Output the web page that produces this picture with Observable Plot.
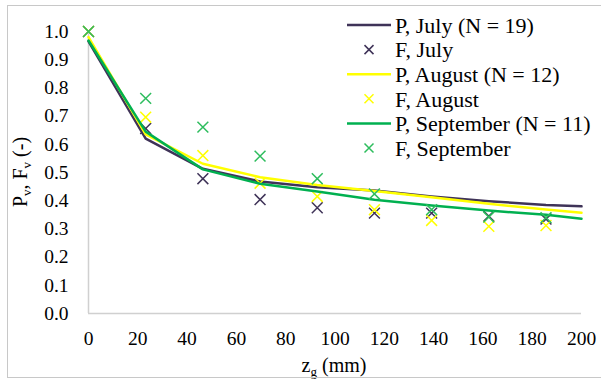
<!DOCTYPE html>
<html>
<head>
<meta charset="utf-8">
<script src="https://cdn.jsdelivr.net/npm/d3@7"></script>
<script src="https://cdn.jsdelivr.net/npm/@observablehq/plot@0.6"></script>
<style>
  body { margin: 0; background: #fff; }
  #wrap { position: relative; width: 601px; height: 380px; overflow: hidden; }
  #frame { position: absolute; left: 7px; top: 5px; width: 600px; height: 373px; border: 1px solid #c8c8c8; box-sizing: border-box; pointer-events: none; }
  #wrap svg text { font-family: "Liberation Serif", "Times New Roman", serif !important; }
</style>
</head>
<body>
<div id="wrap"><div id="frame"></div></div>
<script>
// Depths of the F points (mm)
const zgPoints = [0, 23.2, 46.4, 69.6, 92.8, 116, 139.2, 162.4, 185.6];
// Depths of the P curves (mm)
const zgLine = [0, 23.2, 46.4, 69.6, 92.8, 116, 139.2, 162.4, 185.6, 200];

const pJuly = [0.965, 0.62, 0.513, 0.468, 0.448, 0.436, 0.415, 0.398, 0.385, 0.380];
const pAugust = [0.98, 0.635, 0.531, 0.483, 0.456, 0.434, 0.412, 0.389, 0.369, 0.357];
const pSeptember = [0.968, 0.645, 0.511, 0.460, 0.433, 0.403, 0.383, 0.365, 0.350, 0.336];

const fJuly = [1.0, 0.656, 0.478, 0.404, 0.375, 0.356, 0.356, 0.345, 0.335];
const fAugust = [1.0, 0.696, 0.560, 0.462, 0.415, 0.368, 0.330, 0.309, 0.312];
const fSeptember = [1.0, 0.763, 0.661, 0.558, 0.478, 0.424, 0.368, 0.342, 0.340];

const xTicks = [0, 20, 40, 60, 80, 100, 120, 140, 160, 180, 200];
const yTicks = [0, 0.1, 0.2, 0.3, 0.4, 0.5, 0.6, 0.7, 0.8, 0.9, 1.0];

const legendLabels = ["P, July (N = 19)", "F, July", "P, August (N = 12)", "F, August", "P, September (N = 11)", "F, September"];

const colJuly = "#3f3358";
const colAug = "#ffff00";
const colSepLine = "#00b050";
const colSepMark = "#2ebd5e";

const serif = "Liberation Serif, Times New Roman, serif";

const toRows = (xs, ys) => xs.map((x, i) => ({x, y: ys[i]}));
const series = [
  {type: "line", data: toRows(zgLine, pJuly), color: colJuly},
  {type: "dot", data: toRows(zgPoints, fJuly), color: colJuly},
  {type: "line", data: toRows(zgLine, pAugust), color: colAug},
  {type: "dot", data: toRows(zgPoints, fAugust), color: colAug},
  {type: "line", data: toRows(zgLine, pSeptember), color: colSepLine},
  {type: "dot", data: toRows(zgPoints, fSeptember), color: colSepMark}
];

const marks = [
  Plot.ruleX([0], {stroke: "#d0d0d0", strokeWidth: 1.5}),
  Plot.ruleY([0], {stroke: "#d0d0d0", strokeWidth: 1.5}),
  Plot.axisX({ticks: xTicks, tickSize: 0, tickPadding: 18, fontSize: 19.5, fontFamily: serif, label: null, tickFormat: d3.format("d")}),
  Plot.axisY({ticks: yTicks, tickSize: 0, tickPadding: 20, fontSize: 19.5, fontFamily: serif, label: null, tickFormat: d3.format(".1f")})
];
for (const s of series) {
  if (s.type === "line") marks.push(Plot.line(s.data, {x: "x", y: "y", stroke: s.color, strokeWidth: 2.5}));
  else marks.push(Plot.dot(s.data, {x: "x", y: "y", symbol: "times", r: 5, stroke: s.color, strokeWidth: 1.5}));
}

const chart = Plot.plot({
  width: 601,
  height: 380,
  marginTop: 31,
  marginBottom: 67,
  marginLeft: 88,
  marginRight: 20,
  x: {domain: [0, 200]},
  y: {domain: [0, 1]},
  style: {fontFamily: serif, color: "#000", background: "transparent"},
  marks
});

document.getElementById("wrap").prepend(chart);

const svg = d3.select(chart);
// Y axis title with subscripts
const yt = svg.append("text")
  .attr("transform", "translate(27,172) rotate(-90)")
  .attr("text-anchor", "middle")
  .attr("font-size", 20)
  .attr("fill", "#000");
yt.append("tspan").text("P");
yt.append("tspan").attr("font-size", 13).attr("dy", 4).text("v");
yt.append("tspan").attr("dy", -4).text(", F");
yt.append("tspan").attr("font-size", 13).attr("dy", 4).text("v");
yt.append("tspan").attr("dy", -4).text(" (-)");

// X axis title with subscript
const xt = svg.append("text")
  .attr("x", 334).attr("y", 372)
  .attr("text-anchor", "middle")
  .attr("font-size", 20)
  .attr("fill", "#000");
xt.append("tspan").text("z");
xt.append("tspan").attr("font-size", 13).attr("dy", 4).text("g");
xt.append("tspan").attr("dy", -4).text(" (mm)");

// Legend
const lg = svg.append("g").attr("text-anchor", "start");
const legendY0 = 25, legendDy = 24.6;
series.forEach((s, i) => {
  const y = legendY0 + i * legendDy;
  if (s.type === "line") {
    lg.append("line").attr("x1", 347).attr("x2", 391).attr("y1", y).attr("y2", y)
      .attr("stroke", s.color).attr("stroke-width", 2.5);
  } else {
    const d = 4.5;
    lg.append("path").attr("d", `M${369 - d},${y - d}L${369 + d},${y + d}M${369 - d},${y + d}L${369 + d},${y - d}`)
      .attr("stroke", s.color).attr("stroke-width", 1.5).attr("fill", "none");
  }
  lg.append("text").attr("x", 395).attr("y", y).attr("dy", "0.35em")
    .attr("text-anchor", "start")
    .attr("font-size", 22).attr("fill", "#000").text(legendLabels[i]);
});
</script>
</body>
</html>
